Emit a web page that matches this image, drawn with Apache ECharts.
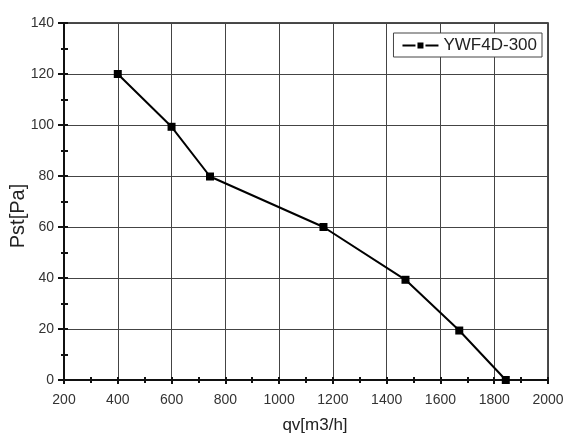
<!DOCTYPE html>
<html>
<head>
<meta charset="utf-8">
<script src="https://cdn.jsdelivr.net/npm/echarts@6/dist/echarts.min.js"></script>
<style>
html, body { margin: 0; padding: 0; background: #fff; }
#main { width: 570px; height: 440px; }
</style>
</head>
<body>
<div id="main"></div>
<script>
var seriesName = 'YWF4D-300';
var flow = [400, 600, 743, 1165, 1470, 1670, 1843];
var pressure = [120, 99.3, 79.8, 60, 39.3, 19.4, 0];

var points = [];
for (var i = 0; i < flow.length; i++) {
    points.push([flow[i], pressure[i]]);
}

var font = 'Liberation Sans, Arial, sans-serif';
var myChart = echarts.init(document.getElementById('main'));

// main axes (labels, outer ticks, grid) + overlaid axes for the inner half of ticks
var option = {
    backgroundColor: '#fff',
    animation: false,
    grid: {
        left: 64, right: 22, top: 23, bottom: 60,
        outerBoundsMode: 'none',
        show: true, borderColor: '#111', borderWidth: 1.5
    },
    legend: {
        right: 28, top: 33,
        icon: 'path://M0,2h13v2H0z M15,0h6v6h-6z M23,2h13v2H23z',
        itemWidth: 36, itemHeight: 6, itemGap: 0,
        padding: [4, 5, 3, 9],
        borderColor: '#444', borderWidth: 1, borderRadius: 0,
        backgroundColor: '#fff',
        textStyle: { fontFamily: font, fontSize: 17, color: '#222' },
        data: [seriesName]
    },
    xAxis: [{
        type: 'value', min: 200, max: 2000, interval: 200,
        name: 'qv[m3/h]', nameLocation: 'middle', nameGap: 37,
        nameTextStyle: { fontFamily: font, fontSize: 17, color: '#222', padding: [0, 0, 0, 18] },
        axisLine: { lineStyle: { color: '#111', width: 2 } },
        axisTick: { length: 4, lineStyle: { color: '#111', width: 2 } },
        minorTick: { show: true, splitNumber: 2, length: 3, lineStyle: { color: '#111', width: 2 } },
        axisLabel: { fontFamily: font, fontSize: 14, color: '#333', margin: 13,
            formatter: function(v) { return String(v); } },
        splitLine: { show: true, lineStyle: { color: '#444', width: 1 } }
    }, {
        type: 'value', min: 200, max: 2000, interval: 200, position: 'bottom',
        axisLine: { show: false },
        axisTick: { inside: true, length: 3, lineStyle: { color: '#111', width: 2 } },
        minorTick: { show: true, splitNumber: 2, length: 3, lineStyle: { color: '#111', width: 2 } },
        axisLabel: { show: false },
        splitLine: { show: false }
    }],
    yAxis: [{
        type: 'value', min: 0, max: 140, interval: 20,
        name: 'Pst[Pa]', nameLocation: 'middle', nameGap: 36, nameMoveOverlap: false,
        nameTextStyle: { fontFamily: font, fontSize: 20, color: '#222', padding: [0, 29, 0, 0] },
        axisLine: { lineStyle: { color: '#111', width: 2 } },
        axisTick: { length: 6, lineStyle: { color: '#111', width: 2 } },
        minorTick: { show: true, splitNumber: 2, length: 3, lineStyle: { color: '#111', width: 2 } },
        axisLabel: { fontFamily: font, fontSize: 14, color: '#333', margin: 10 },
        splitLine: { show: true, lineStyle: { color: '#444', width: 1 } }
    }, {
        type: 'value', min: 0, max: 140, interval: 20, position: 'left',
        axisLine: { show: false },
        axisTick: { inside: true, length: 4, lineStyle: { color: '#111', width: 2 } },
        minorTick: { show: true, splitNumber: 2, length: 4, lineStyle: { color: '#111', width: 2 } },
        axisLabel: { show: false },
        splitLine: { show: false }
    }],
    series: [{
        name: seriesName,
        type: 'line',
        data: points,
        symbol: 'rect',
        symbolSize: 8,
        showAllSymbol: true,
        lineStyle: { color: '#000', width: 2 },
        itemStyle: { color: '#000' }
    }]
};
myChart.setOption(option);
</script>
</body>
</html>
